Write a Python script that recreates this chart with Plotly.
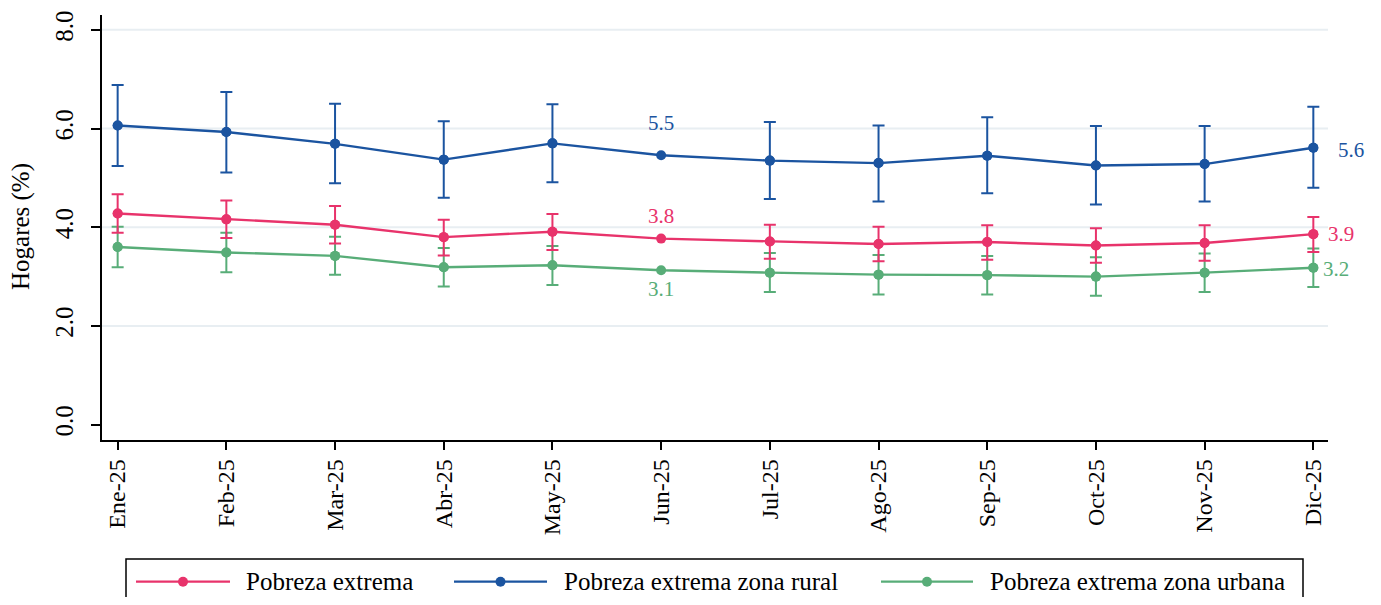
import plotly.graph_objects as go

# ---------------- data ----------------
months = ["Ene-25", "Feb-25", "Mar-25", "Abr-25", "May-25", "Jun-25",
          "Jul-25", "Ago-25", "Sep-25", "Oct-25", "Nov-25", "Dic-25"]

extrema = [4.28, 4.16, 4.05, 3.80, 3.91, 3.77, 3.71, 3.66, 3.70, 3.63, 3.68, 3.86]
extrema_hi = [4.67, 4.54, 4.43, 4.15, 4.27, None, 4.05, 4.01, 4.04, 3.98, 4.04, 4.21]
extrema_lo = [3.89, 3.78, 3.67, 3.43, 3.54, None, 3.36, 3.31, 3.34, 3.28, 3.32, 3.50]

rural = [6.06, 5.93, 5.69, 5.37, 5.70, 5.46, 5.35, 5.30, 5.45, 5.25, 5.28, 5.61]
rural_hi = [6.88, 6.74, 6.50, 6.15, 6.49, None, 6.13, 6.06, 6.23, 6.05, 6.05, 6.44]
rural_lo = [5.24, 5.11, 4.89, 4.60, 4.91, None, 4.57, 4.52, 4.69, 4.46, 4.52, 4.80]

urbana = [3.60, 3.49, 3.42, 3.19, 3.23, 3.13, 3.08, 3.04, 3.03, 3.00, 3.08, 3.18]
urbana_hi = [4.01, 3.89, 3.81, 3.58, 3.62, None, 3.48, 3.44, 3.42, 3.39, 3.47, 3.57]
urbana_lo = [3.19, 3.09, 3.04, 2.80, 2.83, None, 2.69, 2.64, 2.64, 2.61, 2.69, 2.79]

series_names = ["Pobreza extrema", "Pobreza extrema zona rural", "Pobreza extrema zona urbana"]
y_ticks = [0, 2, 4, 6, 8]
y_tick_labels = ["0.0", "2.0", "4.0", "6.0", "8.0"]
grid_values = [2, 4, 6, 8]

# ---------------- style ----------------
PINK = "#E8336B"
BLUE = "#1B54A0"
GREEN = "#58AD78"
FONT = "Liberation Serif"
OFF = 8  # page body margin
W, H = 1373, 589
ML, MR, MT, MB = 94, 53, 3, 157

series = [
    (urbana, urbana_hi, urbana_lo, GREEN),
    (rural, rural_hi, rural_lo, BLUE),
    (extrema, extrema_hi, extrema_lo, PINK),
]

fig = go.Figure()

for vals, hi, lo, col in series:
    y_err = [v if h is not None else None for v, h in zip(vals, hi)]
    plus = [(h - v) if h is not None else None for v, h in zip(vals, hi)]
    minus = [(v - l) if l is not None else None for v, l in zip(vals, lo)]
    fig.add_trace(go.Scatter(
        x=months, y=y_err, mode="markers",
        marker=dict(color=col, size=10),
        error_y=dict(type="data", symmetric=False, array=plus, arrayminus=minus,
                     color=col, thickness=2, width=6),
        showlegend=False, hoverinfo="skip",
    ))
    fig.add_trace(go.Scatter(
        x=months, y=vals, mode="lines+markers",
        line=dict(color=col, width=2.4),
        marker=dict(color=col, size=10),
        showlegend=False,
    ))

for g in grid_values:
    fig.add_hline(y=g, line=dict(color="#E8EEF2", width=2), layer="below")

jun = months.index("Jun-25")
dic = months.index("Dic-25")
label_specs = [
    (rural, BLUE, jun, 0, 32),
    (extrema, PINK, jun, 0, 23),
    (urbana, GREEN, jun, 0, -19),
    (rural, BLUE, dic, 38, -2),
    (extrema, PINK, dic, 28, 0),
    (urbana, GREEN, dic, 23, -1),
]
for vals, col, idx, xs, ys in label_specs:
    fig.add_annotation(
        x=months[idx], y=vals[idx], text=f"{round(vals[idx], 1):.1f}",
        showarrow=False, xshift=xs, yshift=ys, xanchor="center", yanchor="middle",
        font=dict(family=FONT, size=21, color=col),
    )

# ---------------- custom legend ----------------
pw = W - ML - MR
ph = H - MT - MB


def px_x(p):
    return (p - OFF - ML) / pw


def px_y(p):
    return (H - MB - (p - OFF)) / ph


fig.add_shape(type="rect", xref="paper", yref="paper",
              x0=px_x(126), x1=px_x(1303), y0=px_y(610), y1=px_y(560),
              line=dict(color="black", width=1.5), fillcolor="rgba(0,0,0,0)")
legend_items = [
    (series_names[0], PINK, 136, 230, 244),
    (series_names[1], BLUE, 454, 547, 562),
    (series_names[2], GREEN, 881, 973, 988),
]
ly = 583
for name, col, a, b, t in legend_items:
    fig.add_shape(type="line", xref="paper", yref="paper",
                  x0=px_x(a), x1=px_x(b), y0=px_y(ly), y1=px_y(ly),
                  line=dict(color=col, width=2.2))
    fig.add_shape(type="circle", xref="paper", yref="paper",
                  xsizemode="pixel", ysizemode="pixel",
                  xanchor=px_x((a + b) / 2), yanchor=px_y(ly),
                  x0=-5, x1=5, y0=-5, y1=5,
                  line=dict(color=col, width=0), fillcolor=col)
    fig.add_annotation(xref="paper", yref="paper", x=px_x(t), y=px_y(ly),
                       text=name, showarrow=False, xanchor="left", yanchor="middle",
                       font=dict(family=FONT, size=25, color="black"))

# y-axis title as rotated text at the left edge
fig.add_annotation(xref="paper", yref="paper", x=px_x(21), y=px_y(225),
                   text="Hogares (%)", showarrow=False, textangle=-90,
                   xanchor="center", yanchor="middle",
                   font=dict(family=FONT, size=25, color="black"))

fig.update_layout(
    width=W, height=H,
    margin=dict(l=ML, r=MR, t=MT, b=MB, pad=0),
    paper_bgcolor="white", plot_bgcolor="white",
    font=dict(family=FONT, size=24, color="black"),
    showlegend=False,
)
fig.update_xaxes(
    type="category", range=[-0.144, 11.135],
    showline=True, linecolor="black", linewidth=1.5,
    ticks="outside", ticklen=8, tickwidth=1.5, tickcolor="black",
    tickangle=-90, showgrid=False, zeroline=False,
    tickfont=dict(family=FONT, size=24, color="black"),
)
fig.update_yaxes(
    range=[-0.31, 8.30], tickvals=y_ticks, ticktext=y_tick_labels,
    showline=True, linecolor="black", linewidth=1.5,
    ticks="outside", ticklen=9, tickwidth=1.5, tickcolor="black",
    tickangle=-90, showgrid=False, zeroline=False,
    tickfont=dict(family=FONT, size=25, color="black"),
    ticklabelstandoff=8, ticklabeloverflow="allow",
)

fig.write_html("out.html")
